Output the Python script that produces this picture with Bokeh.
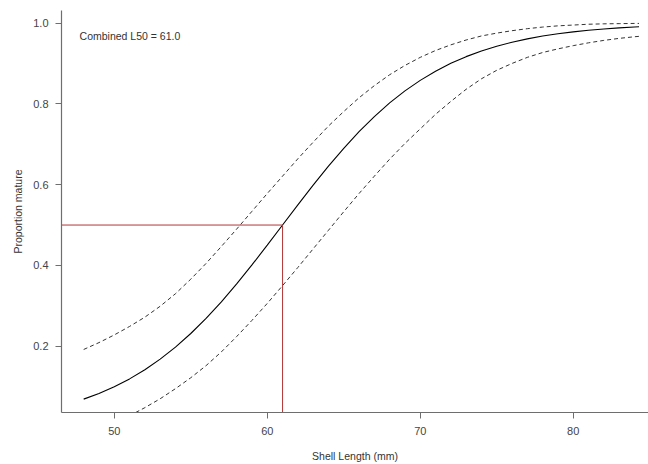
from bokeh.plotting import figure
from bokeh.models import Range1d, FixedTicker, NumeralTickFormatter, Label
from bokeh.embed import file_html
from bokeh.resources import INLINE

# ---- data ----
length_mm = [48, 49, 50, 51, 52, 53, 54, 55, 56, 57, 58, 59, 60, 61, 62, 63, 64, 65, 66,
             67, 68, 69, 70, 71, 72, 73, 74, 75, 76, 77, 78, 79, 80, 81, 82, 83, 84, 84.3]
fit = [0.0691, 0.0832, 0.0998, 0.1192, 0.1419, 0.1680, 0.1978, 0.2315, 0.2689, 0.3100,
       0.3543, 0.4013, 0.4502, 0.5000, 0.5498, 0.5987, 0.6457, 0.6900, 0.7311, 0.7685,
       0.8022, 0.8320, 0.8581, 0.8808, 0.9002, 0.9168, 0.9309, 0.9427, 0.9526, 0.9608,
       0.9677, 0.9734, 0.9781, 0.9820, 0.9852, 0.9879, 0.9900, 0.9906]
upper = [0.192, 0.209, 0.228, 0.249, 0.272, 0.299, 0.330, 0.366, 0.405, 0.447,
         0.490, 0.534, 0.578, 0.621, 0.664, 0.705, 0.745, 0.781, 0.815, 0.845,
         0.872, 0.895, 0.915, 0.932, 0.946, 0.958, 0.968, 0.975, 0.981, 0.986,
         0.990, 0.993, 0.995, 0.997, 0.998, 0.9985, 0.999, 0.999]
lower_len = [51.4, 52, 53, 54, 55, 56, 57, 58, 59, 60, 61, 62, 63, 64, 65, 66, 67, 68,
             69, 70, 71, 72, 73, 74, 75, 76, 77, 78, 79, 80, 81, 82, 83, 84, 84.3]
lower = [0.036, 0.048, 0.070, 0.095, 0.122, 0.152, 0.186, 0.224, 0.264, 0.306,
         0.350, 0.395, 0.441, 0.487, 0.533, 0.578, 0.621, 0.663, 0.702, 0.738,
         0.774, 0.806, 0.836, 0.862, 0.883, 0.900, 0.915, 0.927, 0.936, 0.944,
         0.951, 0.957, 0.962, 0.966, 0.967]
L50 = 61.0
p50 = 0.5
x_ticks = [50, 60, 70, 80]
y_ticks = [0.2, 0.4, 0.6, 0.8, 1.0]

FONT = "Liberation Sans"
AX = "#6e6e6e"
RED = "#b33535"

p = figure(width=648, height=464, output_backend="svg", toolbar_location=None,
           x_range=Range1d(46.55, 84.92), y_range=Range1d(0.036, 1.031),
           min_border_left=61, min_border_right=0, min_border_top=10, min_border_bottom=52)
p.outline_line_color = None
p.grid.visible = False
p.background_fill_color = "white"
p.border_fill_color = "white"

for ax in (p.xaxis[0], p.yaxis[0]):
    ax.axis_line_color = AX
    ax.axis_line_width = 1.2
    ax.major_tick_line_color = AX
    ax.major_tick_out = 6
    ax.major_tick_in = 0
    ax.minor_tick_line_color = None
    ax.major_label_text_font = FONT
    ax.major_label_text_font_size = "11px"
    ax.major_label_text_color = "#444444"
    ax.axis_label_text_font = FONT
    ax.axis_label_text_font_size = "10.5px"
    ax.axis_label_text_font_style = "normal"
    ax.axis_label_text_color = "#333333"

p.xaxis.ticker = FixedTicker(ticks=x_ticks)
p.xaxis.formatter = NumeralTickFormatter(format="0")
p.xaxis.major_label_standoff = 8
p.xaxis.axis_label = "Shell Length (mm)"
p.xaxis.axis_label_standoff = 12
p.yaxis.ticker = FixedTicker(ticks=y_ticks)
p.yaxis.formatter = NumeralTickFormatter(format="0.0")
p.yaxis.major_label_orientation = "horizontal"
p.yaxis.major_label_standoff = 7
p.yaxis.axis_label = "Proportion mature"
p.yaxis.axis_label_standoff = 6

# curves
p.line(length_mm, upper, line_color="#333333", line_width=1, line_dash="4 3")
p.line(lower_len, lower, line_color="#333333", line_width=1, line_dash="4 3")
p.line(length_mm, fit, line_color="black", line_width=1.1)

# L50 reference lines
p.line([40, L50], [p50, p50], line_color=RED, line_width=1)
p.line([L50, L50], [0.0, p50], line_color=RED, line_width=1)

p.add_layout(Label(x=47.73, y=0.969, text="Combined L50 = 61.0", text_font=FONT,
                   text_font_size="10.5px", text_color="#333333", text_baseline="middle"))

open("out.html", "w").write(file_html(p, INLINE))
